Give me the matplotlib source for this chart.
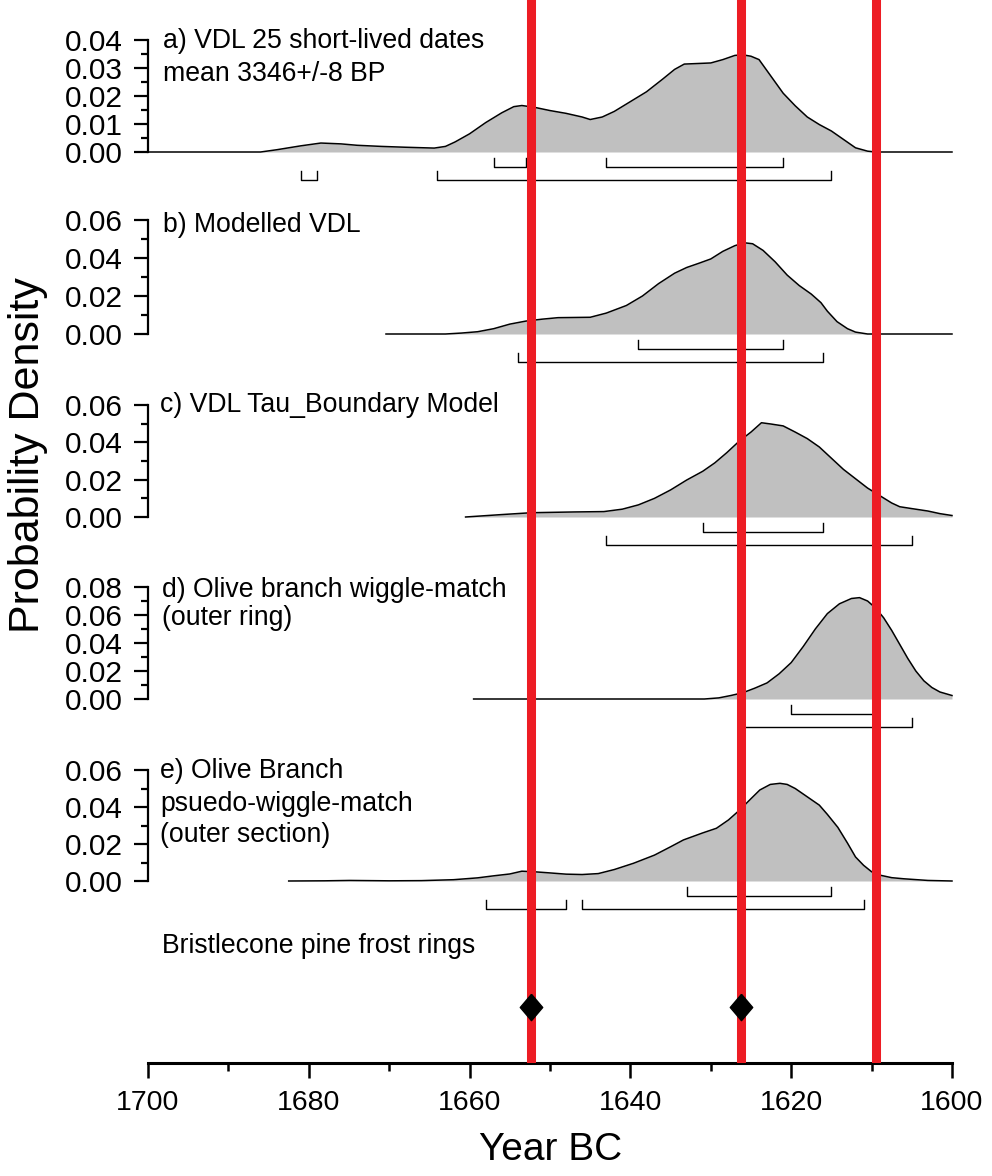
import matplotlib
matplotlib.use("Agg")
import matplotlib.pyplot as plt
import numpy as np

plt.rcParams['font.family'] = ['Liberation Sans', 'DejaVu Sans']

# ---------------- data ----------------
years_a = [1700, 1686, 1684, 1681, 1678.5, 1676, 1674, 1671, 1668, 1664.4, 1663, 1661.8,
           1660, 1658, 1656, 1654.5, 1653.5, 1652, 1650, 1648, 1646, 1645, 1643.5, 1642,
           1640, 1638, 1636, 1634.5, 1633.3, 1630, 1628.5, 1627, 1626, 1625, 1624, 1622.5,
           1621, 1619.5, 1618, 1616.5, 1615, 1613.5, 1612, 1610.5, 1609.5, 1600]
dens_a = [0, 0, 0.0008, 0.0022, 0.0032, 0.0029, 0.0024, 0.0020, 0.0017, 0.0014, 0.0020, 0.0036,
          0.0065, 0.0105, 0.0140, 0.0162, 0.0166, 0.0160, 0.0148, 0.0138, 0.0125, 0.0116, 0.0125, 0.0145,
          0.0180, 0.0215, 0.0260, 0.0295, 0.0314, 0.0318, 0.0330, 0.0345, 0.0347, 0.0342, 0.0330, 0.0270,
          0.0210, 0.0165, 0.0125, 0.0098, 0.0075, 0.0045, 0.0015, 0.0003, 0, 0]

years_b = [1670.4, 1663, 1661, 1659, 1657, 1655, 1653, 1651, 1649, 1645, 1643, 1640.5, 1638.5,
           1636.5, 1634.5, 1633, 1631.5, 1630, 1628.5, 1627, 1625.8, 1624.8, 1623.5, 1622,
           1620.5, 1619, 1617.5, 1616.3, 1615.5, 1614.3, 1613, 1612, 1610.5, 1600]
dens_b = [0, 0, 0.0005, 0.0012, 0.0028, 0.0052, 0.0068, 0.0078, 0.0086, 0.0088, 0.0110, 0.0150, 0.0200,
          0.0265, 0.0320, 0.0350, 0.0372, 0.0395, 0.0435, 0.0465, 0.0480, 0.0475, 0.0440, 0.0380,
          0.0310, 0.0255, 0.0210, 0.0165, 0.0120, 0.0065, 0.0028, 0.0010, 0, 0]

years_c = [1660.5, 1656, 1652.3, 1647, 1643.3, 1641, 1639, 1637, 1635, 1633, 1631, 1629.5,
           1628, 1626.5, 1625, 1623.7, 1622.5, 1621, 1619.5, 1618, 1616.5, 1615, 1613.5,
           1612, 1610.5, 1609, 1607.5, 1606.5, 1605, 1603, 1601.5, 1600]
dens_c = [0, 0.0013, 0.0023, 0.0027, 0.0029, 0.0042, 0.0065, 0.0100, 0.0145, 0.0198, 0.0245, 0.0290,
          0.0345, 0.0405, 0.0455, 0.0505, 0.0498, 0.0488, 0.0455, 0.0420, 0.0375, 0.0315, 0.0255,
          0.0205, 0.0155, 0.0115, 0.0075, 0.0055, 0.0045, 0.0032, 0.0018, 0.0008]

years_d = [1659.5, 1630.8, 1629, 1627.5, 1626, 1624.5, 1623, 1621.5, 1620, 1618.5, 1617,
           1615.5, 1614, 1612.5, 1611.5, 1610.5, 1609.5, 1608.5, 1607.5, 1606.5, 1605.5,
           1604.5, 1603.5, 1602.5, 1601.5, 1600]
dens_d = [0, 0, 0.0008, 0.0025, 0.0045, 0.0078, 0.0115, 0.0180, 0.0260, 0.0375, 0.0500,
          0.0610, 0.0680, 0.0718, 0.0724, 0.0700, 0.0650, 0.0580, 0.0490, 0.0390, 0.0290,
          0.0200, 0.0130, 0.0082, 0.0050, 0.0025]

years_e = [1682.5, 1678, 1674.9, 1670, 1666, 1662, 1659, 1657, 1655, 1653.5, 1652, 1650.4,
           1648, 1646, 1644, 1642, 1639.6, 1637, 1635, 1633.4, 1631, 1629.3, 1627.8, 1626.4,
           1625, 1623.9, 1622.6, 1621.4, 1620.5, 1619.5, 1618, 1616.5, 1615.5, 1614.2, 1613,
           1612, 1611, 1610, 1609, 1607.5, 1606, 1603, 1600]
dens_e = [0, 0.0001, 0.0003, 0.0001, 0.0002, 0.0007, 0.0017, 0.0028, 0.0038, 0.0053, 0.0050, 0.0045,
          0.0037, 0.0035, 0.0040, 0.0062, 0.0096, 0.0140, 0.0185, 0.0222, 0.0260, 0.0285, 0.0330, 0.0384,
          0.0445, 0.0492, 0.0522, 0.0528, 0.0522, 0.0500, 0.0455, 0.0410, 0.0360, 0.0290, 0.0205,
          0.0130, 0.0085, 0.0050, 0.0032, 0.0018, 0.0012, 0.0003, 0]

# highest posterior density ranges (68.2% upper row, 95.4% lower row)
hpd68_a = [(1657, 1653), (1643, 1621)]
hpd95_a = [(1681, 1679), (1664, 1615)]
hpd68_b = [(1639, 1621)]
hpd95_b = [(1654, 1616)]
hpd68_c = [(1631, 1616)]
hpd95_c = [(1643, 1605)]
hpd68_d = [(1620, 1609.5)]
hpd95_d = [(1626, 1605)]
hpd68_e = [(1633, 1615)]
hpd95_e = [(1658, 1648), (1646, 1611)]

labels_a = ["a) VDL 25 short-lived dates", "mean 3346+/-8 BP"]
labels_b = ["b) Modelled VDL"]
labels_c = ["c) VDL Tau_Boundary Model"]
labels_d = ["d) Olive branch wiggle-match", "(outer ring)"]
labels_e = ["e) Olive Branch", "psuedo-wiggle-match", "(outer section)"]

frost_years = [1652.4, 1626.3]
boundary_year = [1609.4]
x_ticks_major = [1700, 1680, 1660, 1640, 1620, 1600]

# ---------------- layout ----------------
W, H = 992, 1176
fig = plt.figure(figsize=(W / 100, H / 100), dpi=100)
fig.patch.set_facecolor('white')

X0, X1 = 148, 952


def fx(px):
    return px / W


def fy(py):
    return 1 - py / H


panels = [
    dict(x=years_a, y=dens_a, ymax=0.04, step=0.01, minor=0.005, base=152, top=40,
         h68=hpd68_a, h95=hpd95_a, labels=labels_a, lx=163, ly=[48, 81]),
    dict(x=years_b, y=dens_b, ymax=0.06, step=0.02, minor=0.01, base=334, top=220,
         h68=hpd68_b, h95=hpd95_b, labels=labels_b, lx=163, ly=[232]),
    dict(x=years_c, y=dens_c, ymax=0.06, step=0.02, minor=0.01, base=517, top=405,
         h68=hpd68_c, h95=hpd95_c, labels=labels_c, lx=160, ly=[412]),
    dict(x=years_d, y=dens_d, ymax=0.08, step=0.02, minor=0.01, base=699, top=587,
         h68=hpd68_d, h95=hpd95_d, labels=labels_d, lx=162, ly=[597, 625]),
    dict(x=years_e, y=dens_e, ymax=0.06, step=0.02, minor=0.01, base=881, top=770,
         h68=hpd68_e, h95=hpd95_e, labels=labels_e, lx=160, ly=[778, 811, 842]),
]

FILL = '#c0c0c0'
RED = '#ed1c24'
TICK_FS = 21.5
LABEL_FS = 19.2

for p in panels:
    hpx = p['base'] - p['top']
    ax = fig.add_axes([fx(X0), fy(p['base']), (X1 - X0) / W, hpx / H])
    ax.patch.set_visible(False)
    ax.set_xlim(1700, 1600)
    ax.set_ylim(0, p['ymax'])
    ax.fill_between(p['x'], p['y'], 0, color=FILL, lw=0, zorder=1)
    ax.plot(p['x'], p['y'], color='black', lw=1.1, zorder=2, clip_on=False,
            solid_joinstyle='round')
    for s in ['top', 'right', 'bottom']:
        ax.spines[s].set_visible(False)
    ax.spines['left'].set_linewidth(1.6)
    ax.set_xticks([])
    major = np.round(np.arange(0, p['ymax'] + 1e-9, p['step']), 3)
    minor = np.round(np.arange(0, p['ymax'] + 1e-9, p['minor']), 3)
    ax.set_yticks(major)
    ax.set_yticklabels([f"{v:.2f}" for v in major], fontsize=TICK_FS)
    ax.set_yticks(minor, minor=True)
    ax.tick_params(axis='y', which='major', direction='out', length=10, width=1.6, pad=8)
    ax.tick_params(axis='y', which='minor', direction='out', length=5, width=1.6)

    # brackets (pixel offsets converted to data units)
    per_px = p['ymax'] / hpx
    tick_h = 9 * per_px
    for rows, off in ((p['h68'], 15), (p['h95'], 27.5)):
        yl = -off * per_px
        for (a, b) in rows:
            ax.plot([a, a, b, b], [yl + tick_h, yl, yl, yl + tick_h], color='black',
                    lw=1.0, clip_on=False, zorder=2)

    for txt, ly in zip(p['labels'], p['ly']):
        fig.text(fx(p['lx']), fy(ly), txt, fontsize=LABEL_FS, va='baseline', ha='left')

# overlay axis with red lines, diamonds and x axis
AXIS_Y = 1063
ov = fig.add_axes([fx(X0), fy(AXIS_Y), (X1 - X0) / W, AXIS_Y / H])
ov.patch.set_visible(False)
ov.set_xlim(1700, 1600)
ov.set_ylim(0, 1)
for s in ['top', 'right', 'left']:
    ov.spines[s].set_visible(False)
ov.spines['bottom'].set_linewidth(2.2)
ov.set_yticks([])
ov.set_xticks(x_ticks_major)
ov.set_xticklabels([str(v) for v in x_ticks_major], fontsize=20.5)
ov.set_xticks(np.arange(1700, 1599, -10), minor=True)
ov.tick_params(axis='x', which='major', direction='out', length=10.8, width=1.8, pad=9)
ov.tick_params(axis='x', which='minor', direction='out', length=5.8, width=1.8)

for yr in frost_years + boundary_year:
    ov.axvline(yr, color=RED, lw=6.5, zorder=3)

diamond = [(0, 1), (0.85, 0), (0, -1), (-0.85, 0), (0, 1)]
ov.plot(frost_years, [(AXIS_Y - 1007) / AXIS_Y] * len(frost_years), linestyle='none',
        marker=diamond, markersize=19, color='black', zorder=4)

fig.text(fx(162), fy(953), "Bristlecone pine frost rings", fontsize=LABEL_FS,
         va='baseline', ha='left')

fig.text(fx(551), fy(1150), "Year BC", fontsize=28, ha='center', va='center')
fig.text(fx(28), fy(455), "Probability Density", fontsize=31, rotation=90,
         ha='center', va='center')

fig.savefig("out.png", dpi=100)
